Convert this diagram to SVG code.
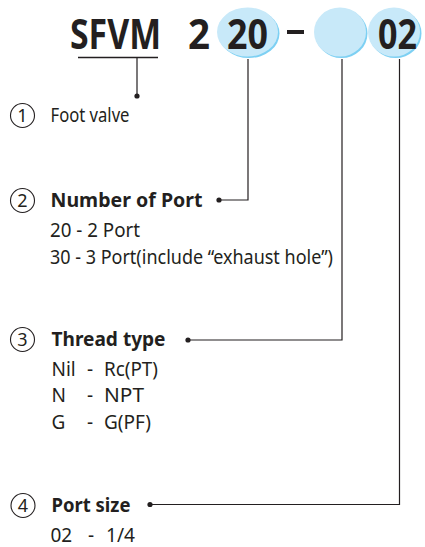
<svg xmlns="http://www.w3.org/2000/svg" width="425" height="547" viewBox="0 0 425 547">
<style>
  .t { font-family: "Noto Sans", "Open Sans", sans-serif; fill: #231f20; }
  .r { font-size: 19px; font-weight: 400; }
  .b { font-size: 20px; font-weight: 700; }
  .code { font-size: 41px; font-weight: 700; }
  .num { font-size: 18px; font-weight: 400; text-anchor: middle; }
  .ring { fill: none; stroke: #231f20; stroke-width: 1.1; }
  .bub { fill: #c8e9f9; }
  .bubs { fill: #7dd0f3; }
  .ln { fill: none; stroke: #231f20; stroke-width: 1.2; }
  .dot { fill: #231f20; }
</style>
<rect width="425" height="547" fill="#ffffff"/>

<g id="code">
  <text class="t code" x="70" y="49" textLength="91" lengthAdjust="spacingAndGlyphs">SFVM</text>
  <line x1="78" y1="57.5" x2="158" y2="57.5" stroke="#231f20" stroke-width="1.4"/>
  <text class="t code" x="188" y="49" textLength="22" lengthAdjust="spacingAndGlyphs">2</text>
  <ellipse class="bubs" cx="249" cy="33.5" rx="30.5" ry="24.5"/>
  <ellipse class="bub" cx="247.5" cy="32" rx="30.5" ry="24.5"/>
  <text class="t code" x="227" y="49" textLength="41" lengthAdjust="spacingAndGlyphs">20</text>
  <rect x="287" y="30" width="17" height="4" fill="#231f20"/>
  <ellipse class="bubs" cx="341.5" cy="33.5" rx="26" ry="24.5"/>
  <ellipse class="bub" cx="340" cy="32" rx="26" ry="24.5"/>
  <ellipse class="bubs" cx="395.5" cy="33.5" rx="26" ry="24.5"/>
  <ellipse class="bub" cx="394" cy="32" rx="26" ry="24.5"/>
  <text class="t code" x="378" y="49" textLength="39" lengthAdjust="spacingAndGlyphs">02</text>
</g>

<g id="connectors">
  <polyline class="ln" points="137,58 137,96"/>
  <polyline class="ln" points="219,200 248,200 248,59"/>
  <polyline class="ln" points="188,340 342,340 342,59"/>
  <polyline class="ln" points="150,504.5 399.5,504.5 399.5,59"/>
  <circle class="dot" cx="137" cy="96" r="2.6"/>
  <circle class="dot" cx="219" cy="200" r="2.6"/>
  <circle class="dot" cx="188" cy="340" r="2.6"/>
  <circle class="dot" cx="150" cy="504.5" r="2.6"/>
</g>

<g id="item1">
  <circle class="ring" cx="22.5" cy="115.5" r="12"/>
  <text class="t num" x="22.5" y="121.8">1</text>
  <text class="t r" x="50.5" y="122" textLength="79" lengthAdjust="spacingAndGlyphs">Foot valve</text>
</g>

<g id="item2">
  <circle class="ring" cx="22.5" cy="200.5" r="12"/>
  <text class="t num" x="22.5" y="206.8">2</text>
  <text class="t b" x="50.5" y="207" textLength="152" lengthAdjust="spacingAndGlyphs">Number of Port</text>
  <text class="t r" x="50" y="237" textLength="90" lengthAdjust="spacingAndGlyphs">20 - 2 Port</text>
  <text class="t r" x="50" y="264" textLength="283" lengthAdjust="spacingAndGlyphs">30 - 3 Port(include “exhaust hole”)</text>
</g>

<g id="item3">
  <circle class="ring" cx="22.5" cy="339.5" r="12"/>
  <text class="t num" x="22.5" y="345.8">3</text>
  <text class="t b" x="51.5" y="346" textLength="114" lengthAdjust="spacingAndGlyphs">Thread type</text>
  <text class="t r" x="51.5" y="375.5">Nil</text>
  <text class="t r" x="87" y="375.5">-</text>
  <text class="t r" x="104" y="375.5" textLength="54" lengthAdjust="spacingAndGlyphs">Rc(PT)</text>
  <text class="t r" x="51.5" y="402">N</text>
  <text class="t r" x="87" y="402">-</text>
  <text class="t r" x="104" y="402" textLength="40" lengthAdjust="spacingAndGlyphs">NPT</text>
  <text class="t r" x="51.5" y="428.5">G</text>
  <text class="t r" x="87" y="428.5">-</text>
  <text class="t r" x="104" y="428.5" textLength="47" lengthAdjust="spacingAndGlyphs">G(PF)</text>
</g>

<g id="item4">
  <circle class="ring" cx="23" cy="505.5" r="12"/>
  <text class="t num" x="23" y="511.8">4</text>
  <text class="t b" x="51.5" y="512" textLength="79" lengthAdjust="spacingAndGlyphs">Port size</text>
  <text class="t r" x="50.5" y="542">02</text>
  <text class="t r" x="88" y="542">-</text>
  <text class="t r" x="106" y="542" textLength="29" lengthAdjust="spacingAndGlyphs">1/4</text>
</g>
</svg>
